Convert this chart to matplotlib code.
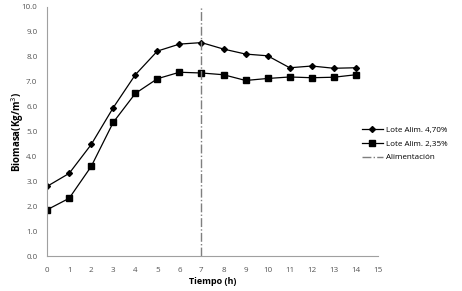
import matplotlib.pyplot as plt

# Biomasa vs tiempo, dos lotes
horas = [0, 1, 2, 3, 4, 5, 6, 7, 8, 9, 10, 11, 12, 13, 14]
lote_470 = [2.8, 3.32, 4.48, 5.96, 7.28, 8.23, 8.51, 8.57, 8.31, 8.11, 8.04, 7.56, 7.63, 7.54, 7.56]
lote_235 = [1.86, 2.32, 3.6, 5.37, 6.53, 7.12, 7.38, 7.35, 7.28, 7.05, 7.13, 7.19, 7.16, 7.18, 7.28]
alimentacion_h = 7

plt.rcParams['font.family'] = ['Open Sans', 'DejaVu Sans']

fig = plt.figure(figsize=(4.62, 2.91), dpi=100)
ax = fig.add_axes([0.102, 0.12, 0.716, 0.856])

ax.plot(horas, lote_470, color='black', lw=0.9, marker='D', ms=3, label='Lote Alim. 4,70%')
ax.plot(horas, lote_235, color='black', lw=0.9, marker='s', ms=4, label='Lote Alim. 2,35%')
ax.axvline(alimentacion_h, color='#7f7f7f', lw=1.0, ls='-.', label='Alimentación')

ax.set_xlim(0, 15)
ax.set_ylim(0, 10)
ax.set_xticks(range(0, 16))
ax.set_yticks([i * 1.0 for i in range(11)])
ax.yaxis.set_major_formatter(plt.FormatStrFormatter('%.1f'))
ax.tick_params(length=0, labelsize=5.8, colors='#555555')
ax.tick_params(axis='x', pad=8)
ax.tick_params(axis='y', pad=7)

for s in ['top', 'right']:
    ax.spines[s].set_visible(False)
for s in ['left', 'bottom']:
    ax.spines[s].set_color('#a0a0a0')
    ax.spines[s].set_linewidth(0.8)

ax.set_xlabel('Tiempo (h)', fontsize=6.5, fontweight='bold', labelpad=2)
ax.set_ylabel('Biomasa(Kg/m$^3$)', fontsize=7, fontweight='bold', labelpad=-3)

ax.legend(loc='center left', bbox_to_anchor=(0.93, 0.45), frameon=False, fontsize=5.8,
          handlelength=2.6, handletextpad=0.4, labelspacing=0.75)

fig.savefig('out.png', dpi=100)
